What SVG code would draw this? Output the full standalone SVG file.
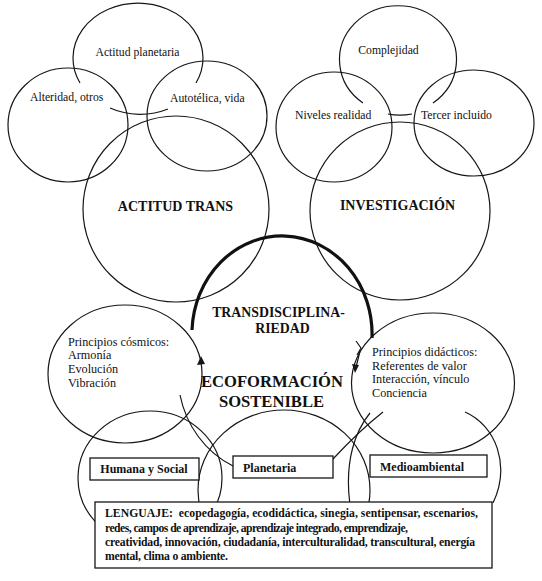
<svg xmlns="http://www.w3.org/2000/svg" width="542" height="581" viewBox="0 0 542 581">
<defs>
<style>
.c{fill:none;stroke:#161616;stroke-width:1.2}
.thick{fill:none;stroke:#111;stroke-width:3.2}
.box{fill:#fff;stroke:#161616;stroke-width:1.3}
.ah{fill:#161616;stroke:none}
.t{font-family:"Liberation Serif","Times New Roman",serif;fill:#111}
.s{font-size:11.7px}
.p{font-size:12.2px}
.b{font-weight:bold}
.big{font-size:14px;font-weight:bold}
.eco{font-size:16.6px;font-weight:bold}
.lab{font-size:12px;font-weight:bold}
.len{font-size:11.7px;font-weight:bold}
</style>
<clipPath id="clipBottom"><rect x="0" y="0" width="542" height="503"/><rect x="0" y="0" width="95" height="581"/></clipPath>
</defs>
<rect width="542" height="581" fill="#fff"/>

<g id="n-actitud-planetaria">
<path class="c" d="M80,83 A65,55 0 1 1 196,83"/>
<path class="c" d="M110,108 A65,55 0 0 0 168,109"/>
<text class="t s" x="137.5" y="56" text-anchor="middle">Actitud planetaria</text>
</g>
<g id="n-alteridad">
<ellipse class="c" cx="68" cy="125" rx="60" ry="57"/>
<text class="t s" x="30" y="101">Alteridad, otros</text>
</g>
<g id="n-autotelica">
<ellipse class="c" cx="207" cy="116" rx="60" ry="55"/>
<text class="t s" x="170" y="102">Autotélica, vida</text>
</g>
<g id="n-actitud-trans">
<circle class="c" cx="176" cy="209" r="93"/>
<text class="t big" x="175.5" y="211" text-anchor="middle">ACTITUD TRANS</text>
</g>

<g id="n-complejidad">
<path class="c" d="M363,103 A58.5,54 0 1 1 433,103"/>
<path class="c" d="M388,114 A58.5,54 0 0 0 412,114"/>
<text class="t s" x="388.5" y="54" text-anchor="middle">Complejidad</text>
</g>
<g id="n-niveles">
<ellipse class="c" cx="334" cy="127" rx="58" ry="55"/>
<text class="t s" x="295" y="119">Niveles realidad</text>
</g>
<g id="n-tercer">
<ellipse class="c" cx="474" cy="123" rx="60" ry="53"/>
<text class="t s" x="421" y="119">Tercer incluido</text>
</g>
<g id="n-investigacion">
<ellipse class="c" cx="400" cy="211" rx="90" ry="89"/>
<text class="t big" x="397.5" y="210" text-anchor="middle">INVESTIGACIÓN</text>
</g>

<g id="n-transdisciplinariedad">
<path class="thick" d="M192,330 A90,98 0 0 1 372,338"/>
<text class="t b" style="font-size:13.8px" x="278.5" y="317" text-anchor="middle">TRANSDISCIPLINA-</text>
<text class="t b" style="font-size:13.8px" x="282.5" y="333" text-anchor="middle">RIEDAD</text>
</g>

<g id="n-cosmicos">
<ellipse class="c" cx="125" cy="374" rx="77" ry="69"/>
<text class="t p" x="68" y="345.5">Principios cósmicos:</text>
<text class="t p" x="68" y="359.3">Armonía</text>
<text class="t p" x="68" y="373.2">Evolución</text>
<text class="t p" x="68" y="386.8">Vibración</text>
</g>

<g id="n-didacticos">
<ellipse class="c" cx="433" cy="383" rx="81.5" ry="70"/>
<text class="t p" x="372" y="356">Principios didácticos:</text>
<text class="t p" x="372" y="369.5">Referentes de valor</text>
<text class="t p" x="372" y="383">Interacción, vínculo</text>
<text class="t p" x="372" y="396.5">Conciencia</text>
</g>

<g id="n-ecoformacion">
<text class="t eco" x="272" y="387" text-anchor="middle">ECOFORMACIÓN</text>
<text class="t eco" x="271.5" y="407" text-anchor="middle">SOSTENIBLE</text>
</g>

<g id="bottom-circles" clip-path="url(#clipBottom)">
<ellipse class="c" cx="150" cy="478" rx="72" ry="67"/>
<ellipse class="c" cx="284" cy="490" rx="86" ry="80"/>
<path class="c" d="M370,413 C356,430 344,460 350,505 M465,412 C495,425 512,465 492,505"/>
</g>

<g id="connectors">
<path class="c" d="M180,395 C186,425 205,452 233,466"/>
<path class="c" d="M383,412 Q360,430 333,459"/>
<path class="c" d="M356,341 L361,348 L357,355"/>
<path class="c" d="M360,351 Q358,360 356,367"/>
<polygon class="ah" points="355,373 352,364 359,365"/>
<polygon class="ah" points="201,356 197,365 205,364"/>
</g>

<g id="n-humana">
<rect class="box" x="90" y="458" width="109" height="22"/>
<text class="t lab" x="144" y="472.5" text-anchor="middle">Humana y Social</text>
</g>
<g id="n-planetaria">
<rect class="box" x="233" y="456" width="100" height="22"/>
<text class="t lab" x="243" y="471.5">Planetaria</text>
</g>
<g id="n-medioambiental">
<rect class="box" x="370" y="455" width="117" height="22"/>
<text class="t lab" x="380" y="470.5">Medioambiental</text>
</g>

<g id="n-lenguaje">
<rect class="box" x="95" y="502" width="397" height="66"/>
<text class="t len" x="105" y="517" xml:space="preserve" textLength="373">LENGUAJE:  ecopedagogía, ecodidáctica, sinegia, sentipensar, escenarios,</text>
<text class="t len" x="105" y="531.5" textLength="303">redes, campos de aprendizaje, aprendizaje integrado, emprendizaje,</text>
<text class="t len" x="105" y="546" textLength="370">creatividad, innovación, ciudadanía, interculturalidad, transcultural, energía</text>
<text class="t len" x="105" y="560" textLength="123">mental, clima o ambiente.</text>
</g>
</svg>
